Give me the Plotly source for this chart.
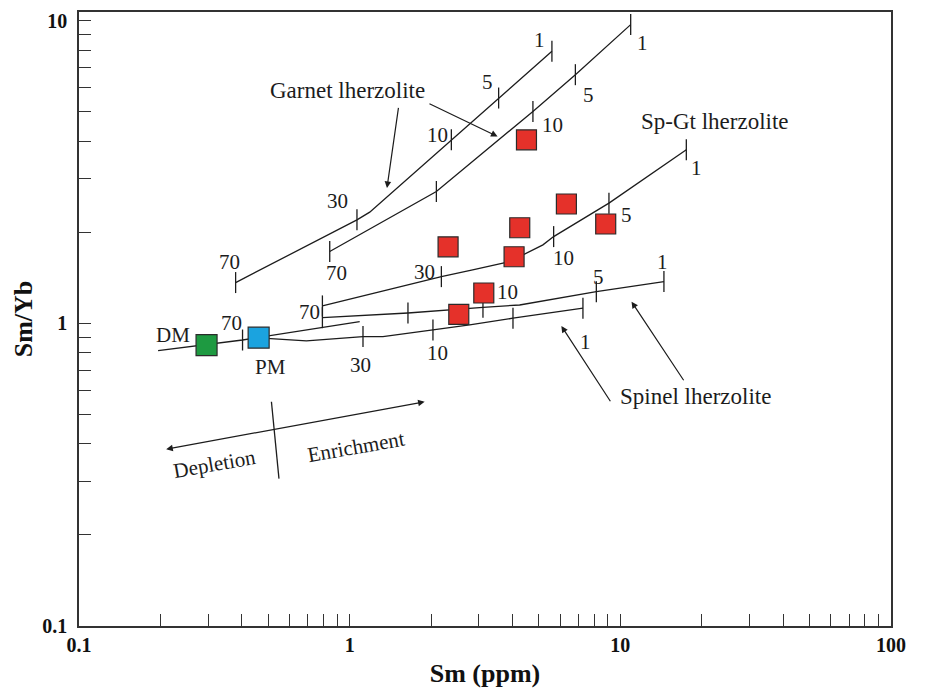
import plotly.graph_objects as go

# ---------------- data (Sm ppm, Sm/Yb) ----------------
# samples (red squares)
sample_sm   = [4.50, 6.32, 8.83, 4.25, 2.31, 4.05, 3.13, 2.53]
sample_smyb = [4.04, 2.48, 2.13, 2.07, 1.79, 1.66, 1.26, 1.07]

# reservoirs
dm_sm, dm_smyb = [0.296], [0.848]
pm_sm, pm_smyb = [0.461], [0.897]

# melting curves
garnet_a_sm   = [0.379, 1.064, 1.186, 2.375, 3.551, 5.588]
garnet_a_smyb = [1.364, 2.198, 2.331, 4.044, 5.553, 7.921]

garnet_b_sm   = [0.844, 2.091, 4.754, 6.822, 10.92]
garnet_b_smyb = [1.727, 2.727, 5.015, 6.633, 9.707]

spgt_sm   = [0.793, 2.182, 2.847, 3.899, 5.177, 5.670, 9.077, 17.53]
spgt_smyb = [1.142, 1.427, 1.502, 1.600, 1.817, 1.935, 2.496, 3.747]

spinel_a_sm   = [0.793, 1.642, 3.108, 4.246, 8.154, 14.49]
spinel_a_smyb = [1.044, 1.082, 1.130, 1.150, 1.273, 1.374]

spinel_b_sm   = [0.461, 0.692, 1.120, 1.327, 2.031, 2.776, 4.012, 7.275]
spinel_b_smyb = [0.895, 0.875, 0.904, 0.904, 0.951, 0.988, 1.040, 1.122]

mantle_sm   = [0.196, 0.402, 1.089]
mantle_smyb = [0.812, 0.881, 1.013]

# melting-degree tick marks on the curves
tick_sm   = [0.379, 1.064, 2.375, 3.551, 5.588,
             0.844, 2.091, 4.754, 6.822, 10.92,
             0.793, 2.182, 5.670, 9.077, 17.53,
             0.793, 1.642, 3.108, 8.154, 14.49,
             1.120, 2.031, 4.012, 7.275,
             0.402]
tick_smyb = [1.364, 2.198, 4.044, 5.553, 7.921,
             1.727, 2.727, 5.015, 6.633, 9.707,
             1.142, 1.427, 1.935, 2.496, 3.747,
             1.044, 1.082, 1.130, 1.273, 1.374,
             0.904, 0.951, 1.040, 1.122,
             0.881]

# depletion / enrichment divider
divider_sm   = [0.514, 0.548]
divider_smyb = [0.551, 0.307]

x_tickvals = [0.1, 1, 10, 100]
x_ticktext = ["0.1", "1", "10", "100"]
y_tickvals = [0.1, 1, 10]
y_ticktext = ["0.1", "1", "10"]

# ---------------- figure ----------------
SERIF = "Liberation Serif"
INK = "#1c1c1c"
LINE = dict(color=INK, width=1.3)

fig = go.Figure()
for xs, ys in [(garnet_a_sm, garnet_a_smyb), (garnet_b_sm, garnet_b_smyb),
               (spgt_sm, spgt_smyb), (spinel_a_sm, spinel_a_smyb),
               (spinel_b_sm, spinel_b_smyb), (mantle_sm, mantle_smyb),
               (divider_sm, divider_smyb)]:
    fig.add_trace(go.Scatter(x=xs, y=ys, mode="lines", line=LINE,
                             hoverinfo="skip", showlegend=False))

fig.add_trace(go.Scatter(x=tick_sm, y=tick_smyb, mode="markers",
                         marker=dict(symbol="line-ns", size=15,
                                     line=dict(color=INK, width=1.3)),
                         hoverinfo="skip", showlegend=False))

sq_line = dict(color="#2b2b2b", width=1.2)
fig.add_trace(go.Scatter(x=sample_sm, y=sample_smyb, mode="markers", name="Samples",
                         marker=dict(symbol="square", size=20, color="#E5312A", line=sq_line),
                         showlegend=False))
fig.add_trace(go.Scatter(x=dm_sm, y=dm_smyb, mode="markers", name="DM",
                         marker=dict(symbol="square", size=21, color="#1E9A41", line=sq_line),
                         showlegend=False))
fig.add_trace(go.Scatter(x=pm_sm, y=pm_smyb, mode="markers", name="PM",
                         marker=dict(symbol="square", size=21, color="#1BA3DF", line=sq_line),
                         showlegend=False))

# ---------------- text labels (log10 positions) ----------------
def lab(text, lx, ly, size=21, angle=0):
    return dict(x=lx, y=ly, xref="x", yref="y", text=text, showarrow=False,
                textangle=angle, font=dict(family=SERIF, size=size, color=INK))

def arr(hx, hy, tx, ty, side="end"):
    return dict(x=hx, y=hy, ax=tx, ay=ty, xref="x", yref="y", axref="x", ayref="y",
                text="", showarrow=True, arrowhead=2, arrowsize=1.1, arrowwidth=1.2,
                arrowcolor=INK, arrowside=side, standoff=0, startstandoff=0)

annotations = [
    lab("70", -0.4433, 0.2041), lab("30", -0.0443, 0.4049), lab("10", 0.3251, 0.6232),
    lab("5", 0.5098, 0.7985), lab("1", 0.7019, 0.9375),
    lab("70", -0.0469, 0.1657), lab("10", 0.751, 0.6563), lab("5", 0.8829, 0.7555),
    lab("1", 1.0835, 0.9266),
    lab("Garnet lherzolite", -0.0074, 0.7688, size=23),
    lab("Sp-Gt lherzolite", 1.3484, 0.6672, size=23),
    lab("1", 1.2808, 0.5131), lab("5", 1.0244, 0.3586), lab("10", 0.7905, 0.2154),
    lab("30", 0.2771, 0.171), lab("70", -0.1478, 0.0387),
    lab("10", 0.5848, 0.1049), lab("5", 0.921, 0.1545), lab("1", 1.1574, 0.2041),
    lab("70", -0.4348, 0.0023),
    lab("DM", -0.6528, -0.0384), lab("PM", -0.2929, -0.1432),
    lab("30", 0.0406, -0.1376), lab("10", 0.3232, -0.0969), lab("1", 0.8718, -0.0605),
    lab("Spinel lherzolite", 1.2782, -0.2402, size=23),
    lab("Depletion", -0.4987, -0.4651, angle=-10),
    lab("Enrichment", 0.0222, -0.4089, angle=-10),
    arr(0.1378, 0.4469, 0.181, 0.7168),
    arr(0.5464, 0.6176, 0.2893, 0.7281),
    arr(0.7821, -0.0086, 0.9668, -0.2623),
    arr(1.0414, 0.0718, 1.2375, -0.1929),
    arr(0.2771, -0.259, -0.6834, -0.4165, side="end+start"),
]

tick_font = dict(family=SERIF, size=20, color="#111", weight="bold")
axis_common = dict(type="log", showline=True, linecolor="#333", linewidth=1.5, mirror=True,
                   ticks="inside", ticklen=12, tickwidth=1.3, tickcolor="#333",
                   showgrid=False, zeroline=False, tickfont=tick_font, tickmode="array")

x_minor = [m * 10.0 ** e for e in (-1, 0, 1) for m in range(2, 10)]
y_minor = [m * 10.0 ** e for e in (-1, 0) for m in range(2, 10)]

fig.update_layout(
    width=927, height=689,
    margin=dict(l=79, r=36, t=12, b=63, autoexpand=False),
    paper_bgcolor="white", plot_bgcolor="white",
    showlegend=False,
    annotations=annotations,
    xaxis=dict(axis_common, range=[-1, 2], tickvals=x_tickvals, ticktext=x_ticktext,
               minor=dict(tickmode="array", tickvals=x_minor, ticks="inside", ticklen=12,
                          tickwidth=1.3, tickcolor="#333", showgrid=False),
               title=dict(text="Sm (ppm)", standoff=9,
                          font=dict(family=SERIF, size=26, color="#111", weight="bold"))),
    yaxis=dict(axis_common, range=[-1, 1.0288], tickvals=y_tickvals, ticktext=y_ticktext,
               ticklabelstandoff=6,
               minor=dict(tickmode="array", tickvals=y_minor, ticks="inside", ticklen=12,
                          tickwidth=1.3, tickcolor="#333", showgrid=False),
               title=dict(text="Sm/Yb", standoff=2,
                          font=dict(family=SERIF, size=26, color="#111", weight="bold"))),
)

fig.write_html("out.html")
